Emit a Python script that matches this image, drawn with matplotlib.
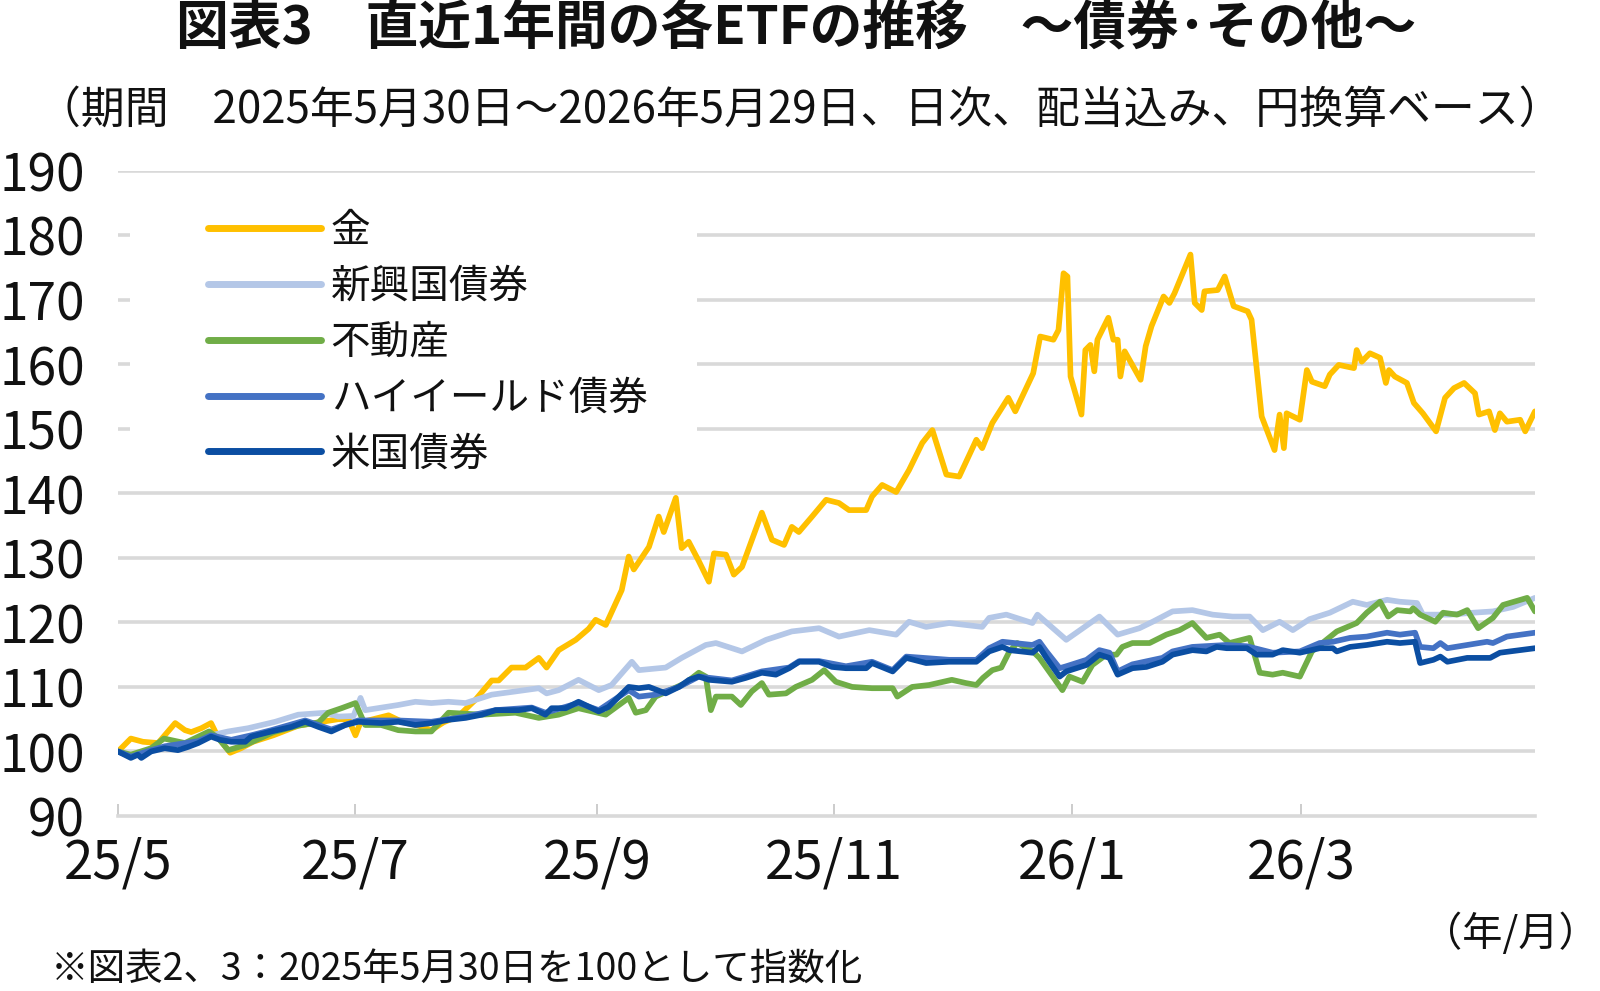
import matplotlib
matplotlib.use("Agg")
import matplotlib.pyplot as plt
import matplotlib.patches as mpatches
import pandas as pd

plt.rcParams['font.family'] = ['Noto Sans CJK JP', 'DejaVu Sans']

START = pd.Timestamp('2025-05-30')
END = pd.Timestamp('2026-05-29')

series_names = ['金', '新興国債券', '不動産', 'ハイイールド債券', '米国債券']
series_colors = ['#FFC000', '#B4C7E7', '#70AD47', '#4472C4', '#0B4EA2']

# day offsets from 2025-05-30 and index values
gold_days = [0, 3.3, 6.4, 10.3, 14.7, 17.2, 18.8, 21.4, 23.9, 25.7, 28.8, 31.6, 34.7, 39.9, 46.3, 51.5,
             56.6, 59.2, 61, 62.3, 65.6, 69.5, 73.3, 77.2, 80.5, 83.6, 87.5, 91.8, 96, 97.8, 101.1, 104.7,
             108.1, 110.1, 113.2, 117.6, 120.9, 122.7, 125.3, 129.4, 131.2, 132.5, 136.4, 138.9, 140.2,
             143.3, 144.8, 146.6, 149.2, 151.8, 153.1, 156.2, 158.2, 160.3, 165.4, 168, 171.1, 173.1,
             174.9, 178.3, 181.9, 185.2, 187.8, 192.2, 193.7, 196.3, 199.9, 203.2, 206.6, 209.2, 212.8,
             216.1, 220.5, 222, 224.6, 228.7, 230.5, 235.1, 236.9, 240.3, 241.6, 242.9, 243.9, 244.7,
             247.5, 248.5, 249.8, 250.8, 251.6, 254.4, 255.7, 256.8, 257.5, 258.6, 262.7, 264, 265.5,
             268.6, 270.1, 271.4, 275.5, 276.6, 278.4, 279.1, 282.5, 284.3, 286.6, 290.2, 291.2, 293.8,
             297.1, 298.4, 299.5, 300.2, 303.6, 305.4, 306.7, 310, 311.3, 313.6, 317.5, 318.2, 319.5,
             321.6, 324.2, 325.7, 326.5, 328, 331.1, 332.9, 335.2, 338.6, 340.9, 343.2, 345.8, 348.6,
             349.6, 352.2, 353.7, 355, 356.8, 360.2, 361.5, 364]
gold_vals = [100, 102, 101.5, 101.3, 104.4, 103.3, 103, 103.6, 104.4, 102.2, 99.8, 100.5, 101.5, 102.5,
             104, 104.5, 105, 105, 102.5, 104.5, 105, 105.6, 104.5, 104, 103.3, 104.5, 105.5, 108, 111,
             111, 113, 113, 114.5, 113, 115.7, 117.3, 119, 120.4, 119.6, 125, 130.2, 128.2, 131.7, 136.4,
             134, 139.3, 131.5, 132.5, 129.5, 126.3, 130.7, 130.5, 127.4, 128.6, 137, 132.8, 132, 134.8,
             134, 136.4, 139, 138.5, 137.4, 137.4, 139.5, 141.3, 140.2, 143.6, 147.8, 149.8, 142.9,
             142.6, 148.3, 147, 150.9, 154.8, 152.7, 158.6, 164.3, 163.8, 165.3, 174.1, 173.6, 158.1,
             152.2, 162.2, 163, 158.9, 163.8, 167.2, 163.8, 163.8, 158.1, 162, 157.6, 162.8, 165.9,
             170.5, 169.5, 171, 177, 169.5, 168.4, 171.3, 171.5, 173.6, 169, 168.2, 166.9, 151.9,
             146.7, 152.2, 147, 152.4, 151.4, 159.1, 157.3, 156.6, 158.4, 159.9, 159.4, 162.2, 160.4,
             161.7, 161, 157.1, 159.1, 158.1, 157.1, 154, 152.4, 149.6, 154.8, 156.3, 157.1, 155.5,
             152.2, 152.7, 149.8, 152.4, 151.1, 151.4, 149.6, 152.7]

em_days = [0, 3.3, 8.5, 15.4, 20.6, 23.9, 28.3, 33.4, 40.4, 46.3, 53.3, 56.6, 60.5, 62.3, 63.5, 72, 76.4,
           80.5, 84.9, 89.3, 96, 102.1, 108.1, 110.1, 113.2, 118.3, 123.5, 126.8, 132, 133.8, 140.7,
           144.8, 151, 153.6, 160.3, 166.5, 173.1, 180.1, 185.2, 193, 199.9, 203.2, 207.6, 213.5, 222,
           223.8, 228.2, 234.9, 236.2, 243.6, 246.2, 252.1, 256.8, 262.4, 265.8, 270.9, 276, 281.2,
           286.3, 290.7, 294.1, 298.4, 301.8, 306.1, 311.3, 317.2, 320.8, 326, 329.3, 333.7, 335.2,
           342.2, 348.1, 353.2, 358.4, 364]
em_vals = [100, 99.3, 100.3, 100.8, 101.6, 102.5, 103.1, 103.6, 104.6, 105.7, 106, 105.4, 105.5, 108.3,
           106.4, 107.2, 107.7, 107.5, 107.7, 107.5, 108.8, 109.3, 109.8, 109, 109.5, 111.1, 109.5,
           110.3, 113.9, 112.6, 113, 114.5, 116.5, 116.8, 115.5, 117.3, 118.6, 119.1, 117.8, 118.8,
           118.1, 120.1, 119.3, 119.9, 119.3, 120.7, 121.2, 119.9, 121.2, 117.3, 118.4, 120.9, 118.1,
           119.1, 120.1, 121.7, 121.9, 121.2, 120.9, 120.9, 118.8, 120.1, 118.8, 120.5, 121.5, 123.2,
           122.7, 123.5, 123.2, 123, 121.2, 121.2, 121.5, 121.7, 122.4, 123.8]

reit_days = [0, 3.3, 8.5, 11.8, 17.2, 23.4, 25.7, 28.3, 32.7, 40, 46.3, 51.5, 54, 57.4, 61, 63.5, 67.6,
             72, 76.4, 80.5, 84.9, 93.5, 102.1, 108.1, 113.2, 118.3, 125.3, 131.2, 133, 135.6, 138.1,
             145.8, 149.2, 151, 152.3, 153.6, 157.7, 160, 162.8, 165.4, 167.2, 171.6, 174.1, 178.3,
             181.4, 184.4, 188.6, 193.7, 199, 200.2, 204, 208.4, 214.2, 217.8, 220.5, 222.2, 224.6,
             226.9, 229, 231, 235, 236.7, 242.6, 244.4, 247.8, 250.3, 253.9, 256.5, 258, 260.6, 265,
             269.3, 272.7, 276, 279.6, 283, 285.5, 290.7, 293.3, 296.6, 299.2, 303.6, 306.7, 313.1,
             318.2, 320.8, 324.2, 326.3, 328.6, 332, 332.7, 334.5, 338.4, 340.4, 344, 346.6, 349.4,
             353.2, 355.8, 362, 364]
reit_vals = [100, 99.5, 100.5, 102, 101.3, 103.1, 102.1, 100.2, 101, 103, 104, 104.5, 106, 106.7, 107.5,
             104.1, 104.1, 103.3, 103.1, 103.1, 106, 105.7, 106, 105.2, 105.7, 106.7, 105.7, 108.3, 106,
             106.4, 108.5, 110.6, 112.2, 111.6, 106.4, 108.5, 108.5, 107.2, 109.3, 110.6, 108.8, 109,
             110, 111.1, 112.6, 110.8, 110, 109.8, 109.8, 108.5, 110, 110.3, 111.1, 110.6, 110.3, 111.4,
             112.6, 113, 115.5, 116.8, 115.5, 114.5, 109.5, 111.6, 110.8, 113.4, 115, 115, 116.2, 116.8,
             116.8, 118.1, 118.8, 119.9, 117.6, 118.1, 116.8, 117.6, 112.2, 111.9, 112.2, 111.6, 115.5,
             118.6, 119.9, 121.5, 123.2, 120.9, 121.9, 121.7, 122.2, 121.2, 120.1, 121.5, 121.2, 121.9,
             119.1, 120.7, 122.7, 123.8, 121.7]

hy_days = [0, 3.3, 8.5, 12, 20.6, 23.9, 29.1, 34.2, 39.4, 48.1, 54.8, 61.7, 72, 80.5, 89.3, 97, 106.3,
           109.8, 118.3, 123.5, 131.2, 133.8, 138.1, 144.1, 149.2, 157.7, 165.4, 172.4, 175, 180.1,
           187, 193.7, 199, 202.5, 213.5, 220.5, 223.8, 227.2, 234.9, 236.7, 238.5, 241.9, 243.6,
           248.8, 252.1, 254.7, 256.8, 260.6, 268.3, 270.9, 276, 284.8, 290, 296.6, 303.6, 308.7,
           312.1, 316.5, 320.8, 326, 329.3, 333.2, 334.5, 337.9, 339.7, 341.5, 346.6, 351.7, 353.2,
           356.8, 364]
hy_vals = [100, 99.2, 100.2, 100.8, 101.6, 102.5, 101.8, 102.5, 103.3, 104.8, 103.4, 104.8, 104.8, 104.6,
           105.4, 106.4, 106.8, 106, 107.5, 106.4, 109.5, 108.5, 108.8, 110, 111.6, 111, 112.4, 113,
           114, 114, 113.2, 113.9, 112.6, 114.7, 114.2, 114.2, 116, 117, 116.5, 117, 115.5, 112.9,
           113.2, 114.2, 115.7, 115.3, 112.4, 113.5, 114.5, 115.5, 116.2, 116.5, 116.3, 115.3, 115.5,
           116.8, 117, 117.6, 117.8, 118.4, 118.1, 118.4, 116.2, 116, 116.8, 116, 116.5, 117, 116.8,
           117.8, 118.4]

us_days = [0, 3.3, 5.1, 6, 8.5, 12, 15.4, 18, 20.6, 23.9, 26.2, 29.1, 32.7, 34.2, 39.4, 44.5, 48.1, 51.5,
           54.8, 58.4, 61.7, 67.6, 72, 76.4, 80.5, 84.9, 89.3, 93.5, 97, 102.9, 106.3, 109.8, 111.4,
           115, 118.3, 123.5, 126, 131.2, 133.8, 136.4, 140.7, 144.1, 146.7, 149.2, 151.8, 157.7,
           161.3, 165.4, 169, 172.4, 175, 180.1, 183.4, 187, 192.2, 193.7, 199, 202.5, 207.6, 213.5,
           220.5, 223.8, 227.2, 229, 234.9, 236.7, 238.5, 241.9, 243.6, 248.8, 252.1, 254.7, 256.8,
           260.6, 264.2, 268.3, 270.9, 276, 279.6, 282.2, 284.8, 290, 292.5, 296.6, 299.2, 303.6,
           308.7, 312.1, 313.1, 316.5, 320.8, 326, 329.3, 333.2, 334.5, 337.9, 339.7, 341.5, 346.6,
           352.5, 355, 364]
us_vals = [100, 99, 99.5, 99, 100, 100.5, 100.2, 100.7, 101.3, 102.3, 101.8, 101.5, 101.5, 102.3, 103.1,
           103.8, 104.6, 103.8, 103.1, 104.1, 104.6, 104.4, 104.6, 104.1, 104.4, 104.9, 105.2, 105.7,
           106.4, 106.4, 106.7, 105.7, 106.7, 106.7, 107.7, 106.2, 106.9, 110, 109.8, 110, 109, 110,
           111.1, 111.6, 111.1, 110.8, 111.4, 112.2, 111.9, 112.9, 113.9, 113.9, 113.1, 112.9, 112.9,
           113.7, 112.4, 114.5, 113.7, 113.9, 113.9, 115.5, 116.2, 115.7, 115.3, 116.2, 114.5, 111.6,
           112.4, 113.4, 115, 114.5, 111.9, 112.9, 113.1, 113.9, 115, 115.7, 115.5, 116.2, 116, 116,
           115, 115, 115.7, 115.3, 116, 116, 115.5, 116.2, 116.5, 117, 116.8, 117, 113.7, 114.2, 114.7,
           113.9, 114.5, 114.5, 115.3, 116]

tick_dates = ['2025-05-30', '2025-07-30', '2025-09-30', '2025-11-30', '2026-01-30', '2026-03-30']
tick_labels = ['25/5', '25/7', '25/9', '25/11', '26/1', '26/3']
y_ticks = [90, 100, 110, 120, 130, 140, 150, 160, 170, 180, 190]

all_days = [gold_days, em_days, reit_days, hy_days, us_days]
all_vals = [gold_vals, em_vals, reit_vals, hy_vals, us_vals]

fig = plt.figure(figsize=(16, 9.91), dpi=100)
ax = fig.add_axes([0.07375, 0.1766, 0.8856, 0.6512])

grid_c = '#D9D9D9'
for yv in y_ticks[1:]:
    ax.axhline(yv, color=grid_c, lw=2.6, zorder=1)

handles = []
for name, col, d, v in zip(series_names, series_colors, all_days, all_vals):
    x = START + pd.to_timedelta(d, unit='D')
    h, = ax.plot(x, v, color=col, lw=4.1, label=name, zorder=3,
                 solid_joinstyle='round', solid_capstyle='round')
    handles.append(h)

ax.set_xlim(START, END)
ax.set_ylim(90, 190)
for s in ['top', 'right', 'left']:
    ax.spines[s].set_visible(False)
ax.spines['bottom'].set_color(grid_c)
ax.spines['bottom'].set_linewidth(2.6)

ax.set_yticks(y_ticks)
ax.set_yticklabels([str(v) for v in y_ticks])
ax.tick_params(axis='y', length=0, pad=24, labelsize=37, labelcolor='#111111')
ax.set_xticks(pd.to_datetime(tick_dates))
ax.set_xticklabels(tick_labels)
ax.tick_params(axis='x', direction='in', length=9, width=1.3, color='#C8C8C8',
               pad=14, labelsize=38, labelcolor='#111111')

# legend background box (covers gridlines)
ax.add_patch(mpatches.Rectangle((0.0085, 0.528), 0.40, 0.434, transform=ax.transAxes,
                                facecolor='white', edgecolor='none', zorder=2))
leg = ax.legend(handles=handles, loc='upper left', bbox_to_anchor=(208 / 1600, 1 - 211 / 991),
                bbox_transform=fig.transFigure, frameon=False, fontsize=28.5,
                handlelength=2.85, handletextpad=0.25, labelspacing=0.40,
                borderpad=0, borderaxespad=0)
for ln in leg.get_lines():
    ln.set_linewidth(5)
for t in leg.get_texts():
    t.set_color('#111111')

fig.text(0.4975, 0.9707, '図表3　直近1年間の各ETFの推移　～債券･その他～', ha='center', va='center',
         fontsize=38, fontweight='bold', color='#111111')
fig.text(0.5, 0.889, '（期間　2025年5月30日～2026年5月29日、日次、配当込み、円換算ベース）',
         ha='center', va='center', fontsize=31.6, color='#111111')
fig.text(0.032, 0.022, '※図表2、3：2025年5月30日を100として指数化', ha='left', va='center',
         fontsize=27, color='#111111')
fig.text(0.999, 0.0575, '（年/月）', ha='right', va='center', fontsize=29, color='#111111')

fig.savefig('out.png', dpi=100)
